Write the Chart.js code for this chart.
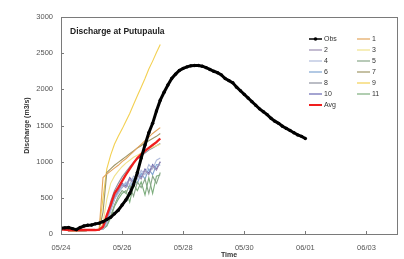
<!DOCTYPE html>
<html>
<head>
<meta charset="utf-8">
<script src="https://cdn.jsdelivr.net/npm/chart.js@4"></script>
<style>
  html, body { margin: 0; padding: 0; background: #fff; }
  #wrap { width: 404px; height: 259px; }
</style>
</head>
<body>
<div id="wrap"><canvas id="dischargeChart" width="404" height="259"></canvas></div>
<script>
// time step of every series = 3 hours, first value at 05/24 00:00
var stepDays = 3 / 24;
var xTickLabels = ['05/24', '05/26', '05/28', '05/30', '06/01', '06/03'];
var yTicks = [0, 500, 1000, 1500, 2000, 2500, 3000];

var obs = [80, 85, 90, 75, 60, 90, 110, 120, 125, 140, 150, 170, 200, 230, 280, 330,
    400, 470, 560, 680, 850, 1050, 1230, 1400, 1530, 1700, 1850, 1960, 2060, 2150, 2210, 2260,
    2290, 2310, 2325, 2330, 2330, 2320, 2300, 2275, 2250, 2230, 2200, 2150, 2120, 2090, 2030, 1980,
    1930, 1880, 1830, 1780, 1730, 1690, 1650, 1600, 1560, 1530, 1490, 1460, 1430, 1400, 1370, 1350, 1320];

var m1 = [80, 60, 45, 40, 40, 45, 45, 50, 50, 55, 60, 780, 830, 870, 910, 950, 1000, 1040, 1090, 1140, 1190, 1240, 1290, 1340, 1390, 1430, 1470];
var m2 = [80, 60, 45, 40, 40, 45, 45, 50, 50, 55, 60, 80, 200, 380, 520, 600, 680, 640, 760, 700, 820, 760, 880, 820, 940, 880, 1000];
var m3 = [80, 60, 45, 40, 40, 45, 45, 50, 50, 55, 60, 150, 480, 700, 800, 870, 930, 980, 1020, 1060, 1090, 1120, 1150, 1180, 1200, 1220, 1240];
var m4 = [80, 60, 45, 40, 40, 45, 45, 50, 50, 55, 60, 70, 150, 320, 480, 560, 650, 720, 680, 800, 760, 880, 820, 960, 900, 1020, 1050];
var m5 = [80, 60, 45, 40, 40, 45, 45, 50, 50, 55, 60, 70, 120, 250, 400, 520, 600, 560, 680, 520, 720, 640, 760, 560, 800, 700, 850];
var m6 = [80, 60, 45, 40, 40, 45, 45, 50, 50, 55, 60, 70, 180, 350, 500, 580, 640, 700, 620, 760, 700, 840, 760, 900, 820, 960, 950];
var m7 = [80, 60, 45, 40, 40, 45, 45, 50, 50, 55, 60, 300, 850, 900, 950, 990, 1030, 1070, 1110, 1150, 1190, 1220, 1260, 1290, 1320, 1350, 1390];
var m8 = [80, 60, 45, 40, 40, 45, 45, 50, 50, 55, 60, 90, 250, 450, 600, 700, 790, 860, 930, 990, 1040, 1080, 1120, 1160, 1190, 1220, 1250];
var m9 = [80, 60, 45, 40, 40, 45, 45, 50, 50, 55, 70, 500, 900, 1090, 1240, 1350, 1450, 1560, 1665, 1790, 1910, 2030, 2150, 2280, 2390, 2510, 2620];
var m10 = [80, 60, 45, 40, 40, 45, 45, 50, 50, 55, 60, 75, 160, 330, 480, 600, 700, 660, 780, 720, 840, 780, 900, 840, 960, 900, 1000];
var m11 = [80, 60, 45, 40, 40, 45, 45, 50, 50, 55, 60, 70, 110, 220, 380, 480, 560, 600, 440, 680, 600, 720, 540, 780, 560, 800, 820];
var avg = [60, 60, 55, 55, 55, 55, 55, 55, 55, 55, 60, 100, 260, 400, 560, 640, 730, 820, 900, 980, 1050, 1100, 1150, 1190, 1230, 1270, 1320];

var members = [m1, m2, m3, m4, m5, m6, m7, m8, m9, m10, m11];
var memberColors = ['#E2A45C', '#9C8FB3', '#F0E28C', '#B0BCDC', '#88A688', '#7FA4D2',
    '#9E9566', '#8E909E', '#F3D052', '#6767B2', '#7DAE7D'];

function toPoints(values) {
    return values.map(function (v, i) { return { x: i * stepDays, y: v }; });
}

var datasets = [{
    label: 'Obs',
    data: toPoints(obs),
    borderColor: '#000',
    backgroundColor: '#000',
    borderWidth: 3,
    pointRadius: 1.7,
    pointBorderWidth: 0,
    order: 0
}];
members.forEach(function (m, i) {
    datasets.push({
        label: String(i + 1),
        data: toPoints(m),
        borderColor: memberColors[i],
        backgroundColor: memberColors[i],
        borderWidth: 1.1,
        pointRadius: 0,
        order: 2
    });
});
datasets.push({
    label: 'Avg',
    data: toPoints(avg),
    borderColor: '#F01E1E',
    backgroundColor: '#F01E1E',
    borderWidth: 2.3,
    pointRadius: 0,
    order: 1
});

// frame, inner tick marks, title and legend
var decorPlugin = {
    id: 'decor',
    afterDraw: function (chart) {
        var ctx = chart.ctx;
        var a = chart.chartArea;
        var xs = chart.scales.x, ys = chart.scales.y;
        ctx.save();
        ctx.strokeStyle = '#7a7a7a';
        ctx.lineWidth = 1;
        ctx.strokeRect(a.left + 0.5, a.top + 0.5, a.right - a.left, a.bottom - a.top);

        ctx.beginPath();
        yTicks.forEach(function (t) {
            var y = Math.round(ys.getPixelForValue(t)) + 0.5;
            ctx.moveTo(a.left, y);
            ctx.lineTo(a.left + 3, y);
        });
        for (var d = 0; d <= 10; d += 2) {
            var x = Math.round(xs.getPixelForValue(d)) + 0.5;
            ctx.moveTo(x, a.bottom);
            ctx.lineTo(x, a.bottom - 3);
        }
        ctx.stroke();

        ctx.fillStyle = '#222';
        ctx.font = 'bold 8.5px "Liberation Sans", Arial, sans-serif';
        ctx.textBaseline = 'middle';
        ctx.textAlign = 'left';
        ctx.fillText('Discharge at Putupaula', 70, 32);

        // legend, two columns
        ctx.font = '7px "Liberation Sans", Arial, sans-serif';
        chart.data.datasets.forEach(function (ds, i) {
            var col = i % 2, row = Math.floor(i / 2);
            var lx = col === 0 ? 309 : 357;
            var ly = 39 + row * 11;
            ctx.strokeStyle = ds.borderColor;
            ctx.lineWidth = ds.label === 'Avg' ? 2 : (ds.label === 'Obs' ? 1.5 : 1.2);
            ctx.beginPath();
            ctx.moveTo(lx, ly);
            ctx.lineTo(lx + 13, ly);
            ctx.stroke();
            if (ds.label === 'Obs') {
                ctx.fillStyle = '#000';
                ctx.beginPath();
                ctx.arc(lx + 6.5, ly, 1.8, 0, Math.PI * 2);
                ctx.fill();
            }
            ctx.fillStyle = '#333';
            ctx.fillText(ds.label, lx + 15, ly);
        });
        ctx.restore();
    }
};

var ctx = document.getElementById('dischargeChart').getContext('2d');
new Chart(ctx, {
    type: 'line',
    data: { datasets: datasets },
    plugins: [decorPlugin],
    options: {
        responsive: false,
        animation: false,
        devicePixelRatio: 1,
        layout: { padding: { top: 17, right: 7, left: 0, bottom: 0 } },
        plugins: { legend: { display: false }, tooltip: { enabled: false } },
        elements: { line: { tension: 0 } },
        scales: {
            x: {
                type: 'linear',
                min: 0,
                max: 11,
                grid: { display: false, drawTicks: false },
                border: { display: true, color: '#7a7a7a' },
                ticks: {
                    stepSize: 2,
                    includeBounds: false,
                    padding: 9,
                    color: '#555',
                    font: { family: '"Liberation Sans", Arial, sans-serif', size: 7.5 },
                    callback: function (v) { return xTickLabels[v / 2] || ''; }
                },
                title: {
                    display: true,
                    text: 'Time',
                    color: '#333',
                    padding: { top: 0, bottom: 0 },
                    font: { family: '"Liberation Sans", Arial, sans-serif', size: 7, weight: 'bold' }
                },
                afterFit: function (scale) { scale.height = 25; }
            },
            y: {
                min: 0,
                max: 3000,
                grid: { display: false, drawTicks: false },
                border: { display: true, color: '#7a7a7a' },
                ticks: {
                    stepSize: 500,
                    padding: 8,
                    color: '#555',
                    font: { family: '"Liberation Sans", Arial, sans-serif', size: 7.5 },
                    callback: function (v) { return String(v); }
                },
                title: {
                    display: true,
                    text: 'Discharge (m3/s)',
                    color: '#333',
                    padding: { top: 23, bottom: 0 },
                    font: { family: '"Liberation Sans", Arial, sans-serif', size: 7, weight: 'bold' }
                },
                afterFit: function (scale) { scale.width = 61; }
            }
        }
    }
});
</script>
</body>
</html>
